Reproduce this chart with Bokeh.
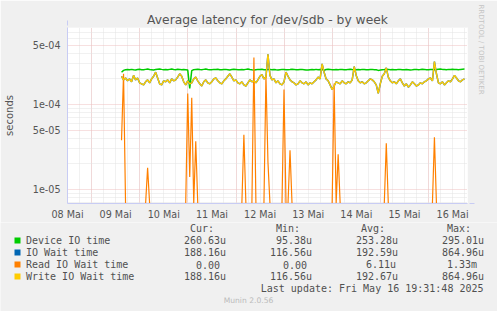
import math
from bokeh.plotting import figure
from bokeh.layouts import column
from bokeh.models import (Range1d, FixedTicker, Label, BoxAnnotation, Arrow, Title,
                          NormalHead, ColumnDataSource, CustomJSTickFormatter)
from bokeh.embed import file_html
from bokeh.resources import INLINE

# ---------------- data ----------------
TITLE = "Average latency for /dev/sdb - by week"
Y_LABEL = "seconds"
WATERMARK = "RRDTOOL / TOBI OETIKER"
FOOTER = "Munin 2.0.56"
LAST_UPDATE = "Last update: Fri May 16 19:31:48 2025"

label_days = [8, 9, 10, 11, 12, 13, 14, 15, 16]
day_labels = ["08 Mai", "09 Mai", "10 Mai", "11 Mai", "12 Mai",
              "13 Mai", "14 Mai", "15 Mai", "16 Mai"]
view_start_day = 8.4995     # May 8 ~12:00
view_end_day = 16.809       # May 16 19:31
first_sample_day = 9.622    # first sample May 9 ~15:00
sample_hours = 1.0

y_min, y_max = 6.83e-6, 8.06e-4
y_ticks = [1e-5, 5e-5, 1e-4, 5e-4]
y_tick_labels = ["1e-05", "5e-05", "1e-04", "5e-04"]
y_minor_ticks = [7e-6, 8e-6, 9e-6, 2e-5, 3e-5, 4e-5, 6e-5, 7e-5, 8e-5, 9e-5,
                 2e-4, 3e-4, 4e-4, 6e-4, 7e-4, 8e-4]

# values in microseconds, one per hour
device_io_us = [
    240, 252, 256, 258, 257, 259, 256, 255, 258, 260, 257, 256,
    259, 261, 258, 257, 255, 258, 260, 262, 259, 257, 258, 256,
    259, 261, 258, 257, 260, 259, 256, 258, 257, 255, 155, 250,
    257, 259, 260, 258, 257, 259, 261, 258, 256, 257, 259, 258,
    260, 257, 256, 258, 259, 257, 255, 258, 260, 259, 257, 256,
    258, 257, 259, 261, 258, 256, 255, 257, 259, 258, 260, 257,
    256, 258, 259, 257, 258, 256, 255, 257, 259, 258, 256, 257,
    258, 260, 259, 257, 256, 258, 259, 257, 255, 254, 256, 258,
    257, 259, 256, 258, 257, 252, 258, 260, 259, 257, 256, 258,
    257, 259, 258, 256, 257, 259, 260, 258, 257, 256, 258, 257,
    259, 258, 256, 257, 258, 259, 257, 256, 252, 254, 257, 258,
    260, 259, 257, 258, 256, 257, 259, 258, 257, 256, 258, 257,
    255, 256, 258, 259, 257, 258, 260, 259, 257, 256, 258, 259,
    257, 258, 260, 261, 259, 258, 257, 259, 258, 260, 259, 258,
    257, 259, 260, 261,
]
write_wait_us = [
    215, 195, 205, 190, 200, 185, 220, 195, 205, 180, 175, 170,
    185, 195, 180, 200, 215, 240, 205, 175, 170, 190, 185, 195,
    180, 200, 190, 195, 210, 230, 215, 185, 170, 190, 175, 180,
    200, 210, 190, 175, 165, 185, 195, 180, 175, 185, 200, 205,
    190, 180, 175, 190, 200, 215, 230, 210, 190, 195, 180, 175,
    185, 170, 165, 180, 195, 185, 190, 180, 195, 215, 225, 200,
    210, 390, 220, 195, 200, 180, 190, 175, 170, 185, 240, 215,
    195, 185, 180, 170, 175, 190, 180, 175, 185, 170, 180, 175,
    185, 195, 210, 200, 300, 240, 200, 190, 170, 150, 165, 185,
    180, 175, 190, 180, 175, 185, 180, 195, 280, 220, 190, 180,
    185, 175, 180, 190, 200, 195, 185, 170, 135, 175, 215, 230,
    270, 210, 190, 180, 185, 175, 190, 200, 180, 165, 175, 160,
    170, 185, 175, 165, 170, 180, 175, 185, 190, 200, 205, 190,
    320, 230, 180, 175, 185, 170, 180, 190, 185, 200, 220, 205,
    190, 185, 195, 200,
]
io_wait_us = list(write_wait_us)   # IO wait equals write wait (reads ~0)
read_spike_index = [0, 1, 13, 33, 34, 35, 37, 61, 66, 72, 73, 81, 84, 106, 108, 132, 156]
read_spike_us = [38, 230, 18, 135, 14, 120, 37, 44, 357, 220, 21, 150, 29, 177, 26, 35, 41]

series_names = ["Device IO time", "IO Wait time", "Read IO Wait time", "Write IO Wait time"]
series_colors = ["#00cc00", "#0066b3", "#ff8000", "#ffcc00"]
stat_headers = ["Cur:", "Min:", "Avg:", "Max:"]
stat_values = [
    ["260.63u", "95.38u", "253.28u", "295.01u"],
    ["188.16u", "116.56u", "192.59u", "864.96u"],
    ["0.00", "0.00", "6.11u", "1.33m"],
    ["188.16u", "116.56u", "192.67u", "864.96u"],
]

# ---------------- layout ----------------
W, H = 497, 311
TOP_H = 222                     # height of the chart part; legend below
FL, FR, FT, FB = 67, 467, 27, 203
TXT = "#555555"
LEG = "#505050"
AXIS_COL = "#c8ccf4"
BG = "#f0f0f0"

n = len(device_io_us)
t = [first_sample_day + i * sample_hours / 24.0 for i in range(n)]
read_us = [0.0] * n
for idx, v in zip(read_spike_index, read_spike_us):
    read_us[idx] = v

def to_sec(vals):
    # zero on a log scale is drawn at the bottom edge (as rrdtool does)
    return [v * 1e-6 if v > 0 else y_min for v in vals]

src = ColumnDataSource(dict(
    t=t,
    dev=to_sec(device_io_us),
    iow=to_sec(io_wait_us),
    rd=to_sec(read_us),
    wr=to_sec(write_wait_us),
))

p = figure(width=W, height=TOP_H,
           x_range=Range1d(view_start_day, view_end_day),
           y_range=Range1d(y_min, y_max), y_axis_type="log",
           output_backend="svg", toolbar_location=None,
           min_border_left=FL, min_border_right=W - FR,
           min_border_top=FT, min_border_bottom=TOP_H - FB,
           background_fill_color="white", border_fill_color=BG,
           outline_line_color=None)
p.frame_align = False

# title (centred on the whole image)
p.title.text = TITLE
p.title.align = "center"
p.title.offset = (W / 2) - (FL + FR) / 2
p.title.text_font = "DejaVu Sans"
p.title.text_font_style = "normal"
p.title.text_font_size = "12.3px"
p.title.text_color = TXT
p.title.standoff = 1
p.title.vertical_align = "bottom"

# watermark on the right
p.add_layout(Title(text=WATERMARK, align="left", offset=-23,
                   text_font="DejaVu Sans", text_font_style="normal",
                   text_font_size="7px", text_color="#c4c4c4",
                   standoff=18), "right")

# grids
major_days = [d for d in label_days if view_start_day < d < view_end_day]
minor_days = [d + q / 4.0 for d in range(8, 17) for q in range(4)
              if view_start_day < d + q / 4.0 < view_end_day]
p.xgrid.ticker = FixedTicker(ticks=major_days, minor_ticks=minor_days)
p.ygrid.ticker = FixedTicker(ticks=y_ticks, minor_ticks=y_minor_ticks)
for g in (p.xgrid[0], p.ygrid[0]):
    g.grid_line_color = "#eec0c0"
    g.grid_line_dash = "1 1"
    g.grid_line_width = 1
    g.minor_grid_line_color = "#e2e2e2"
    g.minor_grid_line_dash = "1 1"
    g.minor_grid_line_width = 1

# axes
p.xaxis.ticker = FixedTicker(ticks=[d + 0.5 for d in label_days])
p.xaxis.formatter = CustomJSTickFormatter(
    args=dict(tk=[d + 0.5 for d in label_days], lbl=day_labels),
    code="""
    let b = 0;
    for (let i = 0; i < tk.length; i++)
        if (Math.abs(tk[i] - tick) < Math.abs(tk[b] - tick)) b = i;
    return lbl[b];
    """)
p.yaxis.ticker = FixedTicker(ticks=y_ticks)
p.yaxis.formatter = CustomJSTickFormatter(
    args=dict(tk=y_ticks, lbl=y_tick_labels),
    code="""
    let b = 0;
    for (let i = 0; i < tk.length; i++)
        if (Math.abs(Math.log(tk[i] / tick)) < Math.abs(Math.log(tk[b] / tick))) b = i;
    return lbl[b];
    """)
for ax in (p.xaxis[0], p.yaxis[0]):
    ax.axis_line_color = AXIS_COL
    ax.axis_line_width = 1
    ax.major_tick_line_color = None
    ax.minor_tick_line_color = None
    ax.major_tick_in = 0
    ax.major_tick_out = 0
    ax.major_label_text_font = "DejaVu Sans"
    ax.major_label_text_font_size = "9.6px"
    ax.major_label_text_color = TXT
p.yaxis.major_label_standoff = 7
p.xaxis.major_label_standoff = 5
p.yaxis.axis_label = Y_LABEL
p.yaxis.axis_label_text_font = "DejaVu Sans"
p.yaxis.axis_label_text_font_style = "normal"
p.yaxis.axis_label_text_font_size = "10px"
p.yaxis.axis_label_text_color = TXT
p.yaxis.axis_label_standoff = 15

# axis arrows
p.add_layout(Arrow(x_start=0, y_start=FB - FT, x_end=0, y_end=FB - FT + 7,
                   start_units="screen", end_units="screen",
                   line_color=AXIS_COL, line_width=1,
                   end=NormalHead(size=5, fill_color=AXIS_COL, line_color=AXIS_COL)))
p.add_layout(Arrow(x_start=FR - FL, y_start=0, x_end=FR - FL + 7, y_end=0,
                   start_units="screen", end_units="screen",
                   line_color=AXIS_COL, line_width=1,
                   end=NormalHead(size=5, fill_color=AXIS_COL, line_color=AXIS_COL)))

# series
widths = [1.5, 1.5, 1.2, 1.4]
for col, color, lw in zip(["dev", "iow", "rd", "wr"], series_colors, widths):
    p.line("t", col, source=src, line_color=color, line_width=lw)

# ---------------- legend part (coordinates = image pixels) ----------------
leg = figure(width=W, height=H - TOP_H,
             x_range=Range1d(0, W), y_range=Range1d(H, TOP_H),
             output_backend="svg", toolbar_location=None,
             x_axis_location=None, y_axis_location=None,
             min_border=0, min_border_left=0, min_border_right=0,
             min_border_top=0, min_border_bottom=0,
             background_fill_color=BG, border_fill_color=BG,
             outline_line_color=None)
leg.frame_align = False
leg.grid.visible = False

def text(X, Y, s, size, color, font="DejaVu Sans", align="left",
         baseline="middle"):
    leg.add_layout(Label(x=X, y=Y, text=s, text_font=font,
                         text_font_size=f"{size}px", text_color=color,
                         text_align=align, text_baseline=baseline))

MONO = "DejaVu Sans Mono"
header_x = [190, 276, 361, 447]
for hx, h in zip(header_x, stat_headers):
    text(hx - 0.5, 228, h, 10, LEG, font=MONO)

row_y = [240, 252, 264, 276]
col_left = [
    [184, 276, 356, 442],
    [184, 270, 356, 442],
    [196, 283, 366, 447],
    [184, 270, 356, 442],
]
for r, (name, color, vals) in enumerate(zip(series_names, series_colors, stat_values)):
    y = row_y[r]
    leg.add_layout(BoxAnnotation(left=14, right=20, top=y - 3, bottom=y + 3,
                                 fill_color=color, fill_alpha=1.0, line_color=None))
    text(25.5, y, name, 10, LEG, font=MONO)
    for c, v in enumerate(vals):
        text(col_left[r][c] - 0.5, y, v, 10, LEG, font=MONO)

text(483, 288, LAST_UPDATE, 10, LEG, font=MONO, align="right")
text(248, 300, FOOTER, 7.6, "#bbbbbb", align="center")

layout = column(p, leg, spacing=0)
open("out.html", "w").write(file_html(layout, INLINE))
